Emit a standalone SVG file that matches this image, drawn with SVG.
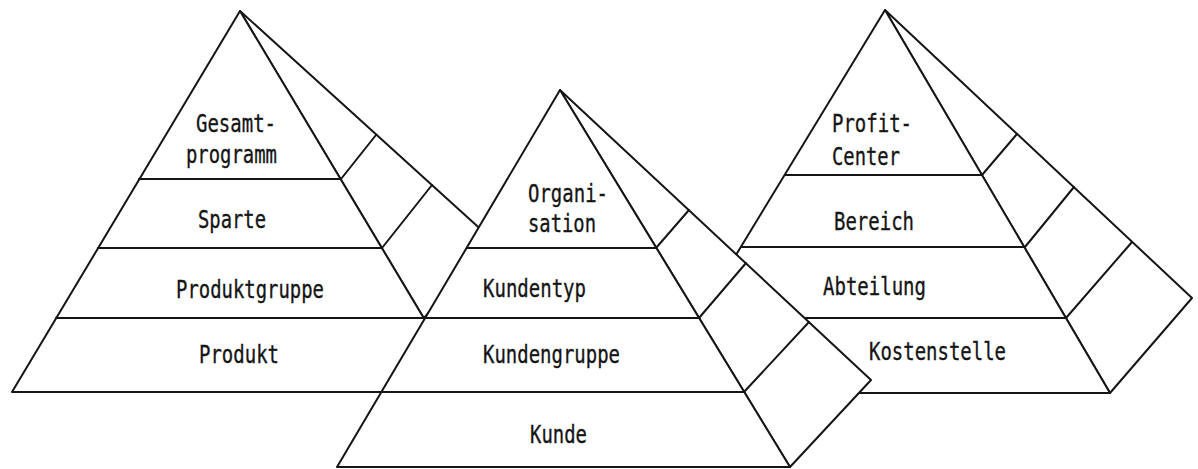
<svg xmlns="http://www.w3.org/2000/svg" width="1198" height="469" viewBox="0 0 1198 469">
<style>
.face{fill:#ffffff;stroke:#151515;stroke-width:2;stroke-linejoin:round}
.ln{stroke:#151515;stroke-width:2;fill:none;stroke-linecap:round}
.lbl{font-family:"DejaVu Sans Mono","Liberation Mono",monospace;font-size:25px;fill:#151515;stroke:#151515;stroke-width:0.35}
</style>
<rect width="1198" height="469" fill="#ffffff"/>
<g id="pyramid-produkt">
<polygon class="face" points="240,11 562,303 468,392"/>
<line class="ln" x1="341" y1="179" x2="376" y2="135"/>
<line class="ln" x1="382" y1="248" x2="432" y2="185"/>
<line class="ln" x1="424" y1="318" x2="493" y2="241"/>
<polygon class="face" points="240,11 12,392 468,392"/>
<line class="ln" x1="139" y1="179" x2="341" y2="179"/>
<line class="ln" x1="98" y1="248" x2="382" y2="248"/>
<line class="ln" x1="56" y1="318" x2="424" y2="318"/>
<text class="lbl" x="196" y="132" textLength="80" lengthAdjust="spacingAndGlyphs">Gesamt-</text>
<text class="lbl" x="186" y="163" textLength="91" lengthAdjust="spacingAndGlyphs">programm</text>
<text class="lbl" x="198" y="228" textLength="68" lengthAdjust="spacingAndGlyphs">Sparte</text>
<text class="lbl" x="176" y="298" textLength="148" lengthAdjust="spacingAndGlyphs">Produktgruppe</text>
<text class="lbl" x="199" y="363" textLength="80" lengthAdjust="spacingAndGlyphs">Produkt</text>
</g>
<g id="pyramid-profitcenter">
<polygon class="face" points="885,10 1192,298 1110,393"/>
<line class="ln" x1="982" y1="175" x2="1017" y2="134"/>
<line class="ln" x1="1025" y1="247" x2="1074" y2="187"/>
<line class="ln" x1="1066" y1="318" x2="1132" y2="242"/>
<polygon class="face" points="885,10 652,393 1110,393"/>
<line class="ln" x1="785" y1="175" x2="982" y2="175"/>
<line class="ln" x1="741" y1="247" x2="1025" y2="247"/>
<line class="ln" x1="697" y1="318" x2="1066" y2="318"/>
<text class="lbl" x="832" y="132" textLength="80" lengthAdjust="spacingAndGlyphs">Profit-</text>
<text class="lbl" x="832" y="165" textLength="68" lengthAdjust="spacingAndGlyphs">Center</text>
<text class="lbl" x="834" y="230" textLength="80" lengthAdjust="spacingAndGlyphs">Bereich</text>
<text class="lbl" x="823" y="295" textLength="103" lengthAdjust="spacingAndGlyphs">Abteilung</text>
<text class="lbl" x="869" y="360" textLength="137" lengthAdjust="spacingAndGlyphs">Kostenstelle</text>
</g>
<g id="pyramid-kunde">
<polygon class="face" points="560,90 871,380 790,467"/>
<line class="ln" x1="656" y1="248" x2="689" y2="210"/>
<line class="ln" x1="699" y1="318" x2="746" y2="263"/>
<line class="ln" x1="744" y1="392" x2="809" y2="322"/>
<polygon class="face" points="560,90 337,467 790,467"/>
<line class="ln" x1="467" y1="248" x2="656" y2="248"/>
<line class="ln" x1="425" y1="318" x2="699" y2="318"/>
<line class="ln" x1="381" y1="392" x2="744" y2="392"/>
<text class="lbl" x="528" y="202" textLength="80" lengthAdjust="spacingAndGlyphs">Organi-</text>
<text class="lbl" x="528" y="232" textLength="68" lengthAdjust="spacingAndGlyphs">sation</text>
<text class="lbl" x="483" y="297" textLength="103" lengthAdjust="spacingAndGlyphs">Kundentyp</text>
<text class="lbl" x="483" y="363" textLength="137" lengthAdjust="spacingAndGlyphs">Kundengruppe</text>
<text class="lbl" x="530" y="443" textLength="57" lengthAdjust="spacingAndGlyphs">Kunde</text>
</g>
<g id="connectors"/>
</svg>
